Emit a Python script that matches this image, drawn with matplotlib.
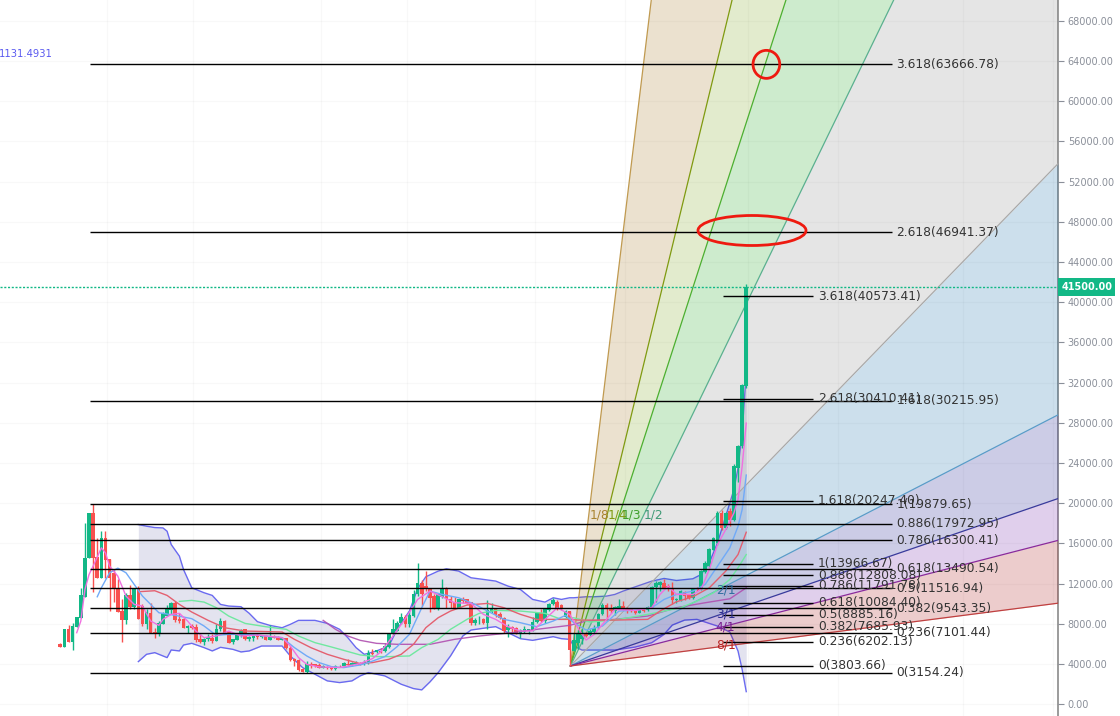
import numpy as np
import matplotlib
matplotlib.use('Agg')
import matplotlib.pyplot as plt
from matplotlib.patches import Ellipse, Rectangle
from matplotlib.transforms import blended_transform_factory

# candles
opens = [5960, 5700, 7450, 6190, 7710, 8570, 10690, 14500, 19070, 14600,
         12550, 16550, 14400, 13075, 11520, 9235, 8340, 10820, 9700, 11585,
         9765, 7940, 9100, 7215, 7120, 7940, 8770, 9370, 10100, 8440,
         8440, 7550, 7780, 7710, 6460, 6190, 6460, 6620, 6290, 7515,
         8275, 7185, 6190, 6390, 6785, 7450, 6460, 6620, 6850, 6720,
         6785, 6390, 6720, 6690, 6390, 6555, 5630, 4470, 4370, 3480,
         3210, 3970, 3970, 3905, 3640, 3740, 3675, 3540, 3850, 3807,
         3970, 3870, 3970, 4070, 3970, 4070, 5130, 5200, 5300, 5300,
         5730, 6950, 7280, 8045, 8640, 7940, 8770, 10920, 12080, 11750,
         11490, 10760, 9430, 10690, 11585, 10490, 10160, 9600, 10490, 10425,
         10160, 8110, 8440, 8510, 8110, 9170, 9500, 8940, 8610, 7380,
         7680, 7615, 7115, 7185, 7280, 7380, 8175, 9100, 8275, 9370,
         9930, 10195, 9830, 8710, 9270, 5300, 6120, 6450, 6950, 6850,
         7180, 7545, 8935, 9830, 9565, 9265, 9596, 9762, 9596, 9497,
         9330, 9100, 9431, 9330, 9700, 11680, 11815, 12013, 11748, 11582,
         10358, 10360, 11185, 10820, 10590, 11582, 11420, 13140, 13800, 15390,
         16050, 19030, 17540, 19195, 18370, 23500, 25650, 31675]
closes = [5700, 7450, 6190, 7780, 8640, 10820, 14560, 19070, 14500, 12550,
          16550, 14330, 12580, 11490, 9170, 8340, 10820, 9700, 11585, 8510,
          7940, 9170, 7050, 7050, 8040, 9040, 9430, 10030, 8375, 8275,
          7550, 7780, 7610, 6390, 6190, 6520, 6720, 6290, 7515, 8240,
          7120, 6125, 6460, 6850, 7250, 6460, 6650, 6785, 6720, 6850,
          6390, 6720, 6620, 6390, 6620, 5630, 4370, 4300, 3380, 3210,
          3970, 3807, 3807, 3575, 3807, 3575, 3476, 3807, 3780, 4138,
          3870, 4070, 4140, 3940, 4200, 5130, 4965, 5395, 5200, 5790,
          7050, 7450, 8110, 8640, 7940, 8840, 10920, 12015, 10920, 11420,
          10590, 9430, 10920, 11585, 10425, 10030, 9600, 10490, 10260, 10030,
          8110, 8340, 8510, 8045, 9370, 9500, 8840, 8610, 7280, 7710,
          7450, 7050, 7380, 7450, 7450, 8175, 9040, 8275, 9500, 9930,
          10330, 9500, 9430, 9270, 5400, 6385, 7115, 6850, 6780, 7250,
          7610, 9000, 9830, 9500, 9265, 9630, 9762, 9596, 9265, 9365,
          9100, 9431, 9265, 9696, 11680, 12013, 12145, 11580, 11483, 10358,
          10490, 11250, 10755, 10590, 11417, 11350, 13240, 14065, 15490, 16550,
          19030, 17540, 19030, 18370, 23670, 25720, 31775, 41500]
highs = [6060, 7450, 7850, 8040, 8640, 11550, 18040, 19070, 19930, 16550,
         17250, 17250, 14400, 13470, 12410, 10430, 11020, 11900, 11585, 11750,
         9930, 9430, 10100, 7610, 8275, 9170, 9830, 10160, 10260, 9040,
         8700, 7850, 7940, 7940, 6950, 6620, 6950, 6950, 7940, 8600,
         8375, 7280, 6520, 7050, 7450, 7510, 6785, 7050, 7050, 6850,
         6850, 7850, 6850, 6750, 6690, 6620, 5790, 4635, 4470, 3640,
         4300, 4200, 3970, 4070, 3900, 3800, 3700, 3900, 3950, 4200,
         4469, 4150, 4250, 4200, 4350, 5360, 5530, 5395, 5630, 6060,
         7050, 8440, 8275, 9100, 8840, 9270, 11350, 14070, 12345, 13240,
         11585, 10920, 10920, 12410, 11685, 10760, 10690, 10490, 10690, 10490,
         10160, 8605, 8770, 8605, 10360, 10095, 9600, 9170, 8705, 7945,
         7780, 7715, 7515, 7780, 7515, 8705, 9100, 9435, 9600, 10095,
         10590, 10330, 9930, 9370, 9270, 7115, 7380, 7450, 7180, 7450,
         7840, 9100, 10090, 10090, 9925, 9765, 10424, 10260, 9696, 9596,
         9365, 9497, 9497, 9762, 11748, 12245, 12245, 12476, 11914, 12145,
         10590, 11350, 11250, 10920, 11483, 11680, 13337, 14230, 15555, 16647,
         19195, 19295, 19130, 19525, 23900, 25800, 31880, 41770]
lows = [5700, 5700, 6190, 5400, 7710, 8570, 10690, 14500, 11150, 12550,
        12550, 12580, 9270, 10160, 9170, 6190, 7940, 9430, 9430, 8510,
        7780, 7450, 7050, 6620, 6785, 7940, 8770, 8940, 8175, 8040,
        7550, 7120, 7450, 6190, 6060, 5860, 6290, 6125, 6290, 7280,
        7120, 6060, 5960, 6390, 6720, 6390, 6290, 6290, 6520, 6620,
        6390, 6390, 6555, 6356, 6356, 5530, 4300, 3800, 3310, 3210,
        3145, 3640, 3740, 3575, 3600, 3550, 3450, 3450, 3720, 3750,
        3800, 3850, 3900, 3900, 3950, 3970, 4865, 5065, 5065, 5200,
        5630, 6790, 7280, 7945, 7715, 7715, 8705, 10760, 9765, 11255,
        9170, 9430, 9370, 10590, 9600, 9600, 9500, 9600, 10030, 9930,
        7845, 7845, 7945, 7945, 7515, 9035, 8705, 8510, 7050, 6720,
        7185, 6950, 6620, 7050, 6950, 7280, 8110, 8175, 8110, 9270,
        9830, 9370, 9370, 8540, 3803, 5300, 5460, 5950, 6680, 6780,
        7115, 7445, 8870, 8270, 9100, 8835, 9431, 9365, 9100, 9200,
        9000, 9035, 9166, 9232, 9596, 10160, 11250, 11483, 11250, 9927,
        10027, 10260, 10358, 10490, 10490, 11250, 11350, 13072, 13668, 15323,
        15885, 17375, 17440, 17705, 18200, 22080, 25500, 31500]

# bollinger band
bb_up_x = [19, 21, 23, 25, 26, 27, 29, 30, 32, 35, 37, 39, 41, 44, 46, 48, 51, 54, 56, 58, 62, 65, 68,
           70, 72, 74, 75, 77, 80, 82, 85, 87, 89, 92, 94, 97, 100, 103, 106, 109, 112, 115, 118, 120, 122, 124,
           125, 128, 130, 133, 135, 137, 140, 144, 147, 150, 154, 156, 158, 160, 162, 164, 165, 166, 167]
bb_up_y = [17875, 17710, 17575, 17540, 17210, 15890, 14730, 13400, 11585, 11090, 10825, 9930, 9765, 9700, 9040,
           8210, 7845, 7610, 7945, 8340, 8340, 8040, 7450,
           6620, 5630, 4965, 5065, 5300, 5790, 7450, 9270, 11490, 12680, 13240, 13470, 13240, 12580, 12415, 12250,
           11750, 11420, 10425, 10160, 10590, 10425, 10590,
           10590, 10690, 10690, 10755, 10920, 11250, 11680, 12245, 12510, 12310, 12480, 12900, 14065, 16050, 18700,
           21350, 23500, 27000, 33000]
bb_lo_y = [4240, 4965, 5130, 4635, 5395, 5300, 5890, 6060, 5630, 5300, 5660, 5460, 5200, 5300, 5790, 5790, 4800,
           3640, 2980, 2320, 2150, 2320, 2815, 3145, 2815, 1985, 1555, 1425, 2220, 3145, 4800, 6790, 7380, 7615,
           7715, 7115, 6520, 6355, 6720, 6520, 6455, 5790, 5390, 5390, 5690, 6120, 6950, 7875, 8370, 8440, 8040,
           7775, 7180, 5290, 3470, 1250]
bb_lo_x = [19, 21, 23, 26, 27, 29, 30, 32, 35, 37, 39, 42, 44, 46, 49, 54, 56,
           59, 62, 65, 68, 71, 73, 75, 79, 83, 86, 88, 90, 92, 95, 98, 100, 104,
           106, 109, 112, 115, 120, 122, 124, 125, 127, 135, 140, 144, 147, 149, 152, 155, 158,
           160, 163, 165, 166, 167]

# moving averages
ma_a_x = [4, 5, 6, 7, 8, 10, 11, 12, 14, 16, 18, 20, 22, 24, 25, 27, 29, 31, 33, 35, 38, 41, 44, 48, 54, 56, 58,
          60, 63, 68, 73, 76, 78, 81, 84, 87, 90, 93, 96, 100, 103, 106, 109, 112, 115, 118, 121, 124, 126,
          128, 130, 133, 135, 140, 144, 146, 148, 150, 154, 156, 158, 160, 162, 164, 165, 166, 167]
ma_a_y = [7115, 8275, 11420, 12910, 13740, 15560, 15060, 13740, 12745, 10760, 9930, 9765, 8275, 7845, 8440, 8940,
          9040, 8275, 7280, 6620, 6785, 7280, 6785, 6885, 6620, 5790, 4635, 3970, 3710, 3640, 4040, 4535, 5200,
          6785, 8510, 10425, 11255, 10690, 10095, 10030, 8940, 8440, 7715, 7285, 7285, 8440, 9600, 8940, 7615,
          6385, 6950, 8440, 9430, 9330, 9600, 10920, 11750, 10920, 10920, 11420, 13400, 15885, 17375, 19030,
          20360, 23670, 27970]
ma_b_x = [9, 10, 12, 14, 16, 18, 20, 22, 24, 28, 32, 35, 38, 41, 46, 54, 57, 60, 63, 66, 69, 73, 75, 79, 82, 85,
          88, 90, 93, 97, 101, 104, 108, 112, 116, 120, 123, 125, 128, 132, 136, 140, 144, 147, 150, 154, 157,
          160, 163, 165, 166, 167]
ma_b_y = [10690, 11585, 13075, 13540, 13075, 11915, 10760, 9930, 9100, 8840, 8510, 7780, 6850, 6950, 6950, 6620,
          5630, 4800, 4140, 3740, 3640, 3905, 4140, 4735, 5725, 6950, 9600, 11255, 10920, 10590, 9930, 9270,
          8440, 8110, 7715, 8275, 8840, 8110, 7380, 7775, 9265, 9365, 9600, 10425, 10920, 11250, 11915, 13735,
          15555, 17705, 19360, 22800]
ma_c_x = [19, 23, 26, 29, 32, 36, 40, 45, 54, 57, 61, 65, 69, 73, 76, 80, 83, 86, 89, 92, 95, 99, 104, 108, 112,
          116, 120, 124, 126, 135, 143, 146, 150, 154, 158, 162, 165, 167]
ma_c_y = [11190, 11290, 10825, 9930, 9170, 8340, 7610, 7280, 7185, 6455, 5630, 4965, 4470, 4040, 4140, 4470,
          4965, 5960, 7615, 8605, 9270, 9865, 10030, 9600, 8940, 8440, 8440, 8440, 8370, 8370, 8440, 9265,
          10190, 10690, 11580, 13240, 14890, 17110]
ma_d_x = [29, 32, 35, 38, 41, 45, 50, 55, 58, 62, 66, 73, 77, 80, 85, 88, 92, 95, 99, 102, 106, 112, 118, 122,
          125, 129, 136, 143, 147, 151, 155, 159, 163, 165, 167]
ma_d_y = [10230, 10330, 10160, 9600, 8770, 8040, 7710, 7450, 6785, 6125, 5695, 4900, 4735, 4735, 4800, 5630,
          6455, 7450, 8440, 9040, 9335, 9270, 9040, 8440, 8600, 8170, 8440, 8935, 9265, 9600, 10260, 11085,
          12410, 13570, 14890]
ma_e_x = [64, 67, 70, 73, 77, 82, 90, 96, 102, 110, 116, 124, 128, 135, 143, 150, 157, 163, 167]
ma_e_y = [8340, 7450, 6785, 6355, 6055, 5960, 5960, 6455, 6785, 7115, 7450, 7845, 8270, 8440, 8770, 9600, 10095,
          10490, 11580]

# fibonacci levels, left set and recent set
fib_long_levels = ['3.618', '2.618', '1.618', '1', '0.886', '0.786', '0.618', '0.5', '0.382', '0.236', '0']
fib_long_prices = [63666.78, 46941.37, 30215.95, 19879.65, 17972.95, 16300.41, 13490.54, 11516.94, 9543.35, 7101.44, 3154.24]
fib_short_levels = ['3.618', '2.618', '1.618', '1', '0.886', '0.786', '0.618', '0.5', '0.382', '0.236', '0']
fib_short_prices = [40573.41, 30410.41, 20247.40, 13966.67, 12808.08, 11791.78, 10084.40, 8885.16, 7685.93, 6202.13, 3803.66]

# fan
fan_x0 = 124.2
fan_y0 = 3803.66
fan_rate = 421
fan_steep = [8, 4, 3, 2, 1, 1 / 2, 1 / 3, 1 / 4, 1 / 8]
fan_line_colors = ['#c09a50', '#7f9a10', '#4caf30', '#5ab08f', '#a8a8a8', '#5a9bc8', '#3a3a9c', '#8a2a9a', '#c04040']
fan_fill_colors = ['#9b690f', '#6e9b05', '#059b05', '#7d7d7d', '#005fa0', '#000082', '#640fa0', '#a00000']
fan_label_names = ['1/8', '1/4', '1/3', '1/2', '2/1', '3/1', '4/1', '8/1']
fan_label_x = [129, 133.3, 136.7, 142.1, 159.6, 159.6, 159.6, 159.6]
fan_label_y = [18825, 18825, 18825, 18825, 11360, 8975, 7680, 5890]
fan_label_colors = ['#a9842f', '#7f9a10', '#3f9f2a', '#3f9a76', '#2f6f9f', '#2c2c90', '#7a1f90', '#b82020']

price_ticks = list(range(0, 72000, 4000))
grid_x = [11.4, 32.3, 63.5, 84.4, 115.6, 137.5, 167.4, 189.4, 219.8, 241.6]
last_price = 41500
GREEN = '#12b886'
RED = '#f8514f'

fig = plt.figure(figsize=(11.2, 7.16), dpi=100)
ax = fig.add_axes([0, 0, 1058 / 1120, 1])
xmin, xmax = -14.68, 242.9
ax.set_xlim(xmin, xmax)
ax.set_ylim(-1174, 70070)

ax.set_yticks(price_ticks)
ax.set_yticklabels(['%.2f' % p for p in price_ticks])
ax.yaxis.tick_right()
ax.tick_params(axis='y', labelsize=7, colors='#8a8f99', length=4, width=0.8, pad=3)
ax.set_xticks(grid_x)
ax.tick_params(axis='x', bottom=False, labelbottom=False)
ax.grid(True, color='#888888', alpha=0.06, lw=0.8, zorder=6)
ax.set_axisbelow(False)
for side in ['top', 'left', 'bottom']:
    ax.spines[side].set_visible(False)
ax.spines['right'].set_color('#8a8a8a')
ax.spines['right'].set_linewidth(1.2)

# band
band_x = np.arange(19, 168)
ax.fill_between(band_x, np.interp(band_x, bb_lo_x, bb_lo_y), np.interp(band_x, bb_up_x, bb_up_y),
                color='#8080b8', alpha=0.22, lw=0, zorder=1)
ax.plot(bb_up_x, bb_up_y, color='#6a6af0', lw=1.0, zorder=2)
ax.plot(bb_lo_x, bb_lo_y, color='#6a6af0', lw=1.0, zorder=2)

# fan fills and rays
fan_xs = np.array([fan_x0, xmax])
for i in range(len(fan_fill_colors)):
    top = fan_y0 + fan_rate * fan_steep[i] * (fan_xs - fan_x0)
    bottom = fan_y0 + fan_rate * fan_steep[i + 1] * (fan_xs - fan_x0)
    ax.fill_between(fan_xs, bottom, top, color=fan_fill_colors[i], alpha=0.2, lw=0, zorder=3)
for i in range(len(fan_steep)):
    ax.plot(fan_xs, fan_y0 + fan_rate * fan_steep[i] * (fan_xs - fan_x0), color=fan_line_colors[i], lw=0.9, zorder=3.5)
for name, x, y, c in zip(fan_label_names, fan_label_x, fan_label_y, fan_label_colors):
    ax.text(x, y, name, color=c, fontsize=8.8, va='center', ha='left', zorder=8)

# candles
idx = np.arange(len(opens))
o = np.array(opens)
c = np.array(closes)
colors = [GREEN if c[i] >= o[i] else RED for i in idx]
ax.vlines(idx, lows, highs, colors=colors, lw=1.0, zorder=4)
ax.bar(idx, np.abs(c - o), bottom=np.minimum(o, c), width=0.88, color=colors, lw=0, zorder=4.1)

# averages go on top of the candles
ax.plot(ma_e_x, ma_e_y, color='#b050b0', lw=1.0, alpha=0.9, zorder=4.2)
ax.plot(ma_d_x, ma_d_y, color='#70e8a0', lw=1.0, zorder=4.3)
ax.plot(ma_c_x, ma_c_y, color='#e46070', lw=1.0, zorder=4.4)
ax.plot(ma_b_x, ma_b_y, color='#70aaf8', lw=1.0, zorder=4.5)
ax.plot(ma_a_x, ma_a_y, color='#f070e0', lw=1.0, zorder=4.6)

# fib levels
ax.hlines(fib_long_prices, 7.25, 202.5, colors='black', lw=1.0, zorder=5)
ax.hlines(fib_short_prices, 161.4, 183.3, colors='black', lw=1.0, zorder=5)
for lev, p in zip(fib_long_levels, fib_long_prices):
    ax.text(203.6, p, '%s(%.2f)' % (lev, p), fontsize=8.8, color='#333333', va='center', ha='left', zorder=8)
for lev, p in zip(fib_short_levels, fib_short_prices):
    ax.text(184.5, p, '%s(%.2f)' % (lev, p), fontsize=8.8, color='#333333', va='center', ha='left', zorder=8)

# last price
ax.axhline(last_price, color=GREEN, lw=1.0, ls=(0, (1.5, 1.2)), zorder=7)
trans = blended_transform_factory(ax.transAxes, ax.transData)
ax.add_patch(Rectangle((1.0, last_price - 870), 57 / 1058, 1740, transform=trans, color=GREEN, clip_on=False, lw=0, zorder=9))
ax.text(1.0 + 4 / 1058, last_price, '%.2f' % last_price, transform=trans, color='white', fontsize=7, fontweight='bold',
        va='center', ha='left', zorder=10)

# hand drawn marks
ax.add_patch(Ellipse((171.9, 63666), 6.5, 2786, fill=False, ec='#ee1a10', lw=2.0, zorder=9))
ax.add_patch(Ellipse((168.4, 47135), 26.3, 2985, fill=False, ec='#ee1a10', lw=2.0, zorder=9))

ax.text(-14.9, 64650, '1131.4931', color='#5a5af0', fontsize=7.2, va='center', ha='left', zorder=8)

fig.savefig('out.png', dpi=100)
